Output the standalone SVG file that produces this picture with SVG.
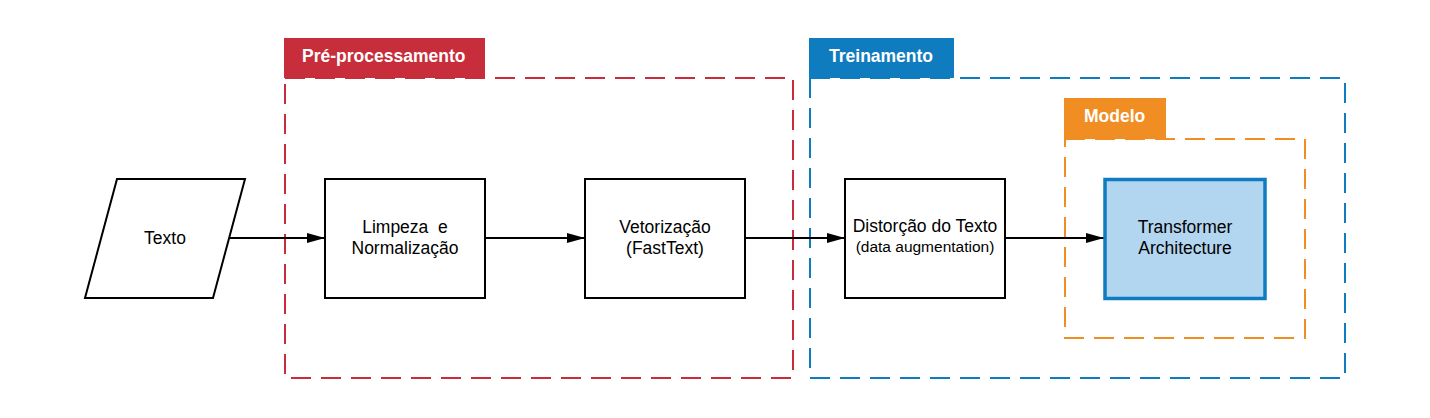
<svg xmlns="http://www.w3.org/2000/svg" width="1430" height="418" viewBox="0 0 1430 418">
<defs>
<style>
.frame{fill:none;stroke-width:2;stroke-dasharray:20 10}
.box{fill:#ffffff;stroke:#000000;stroke-width:2}
.t{font-family:"Liberation Sans",Arial,sans-serif;font-size:17.5px;fill:#000000;text-anchor:middle}
.s{font-size:15.5px}
.pre{white-space:pre}
.lab{font-family:"Liberation Sans",Arial,sans-serif;font-size:17.5px;font-weight:bold;fill:#ffffff}
.conn{fill:none;stroke:#000000;stroke-width:2}
</style>
<marker id="arr" markerWidth="18" markerHeight="10" refX="18" refY="5" orient="auto" markerUnits="userSpaceOnUse">
<path d="M0,0 L18,5 L0,10 Z" fill="#000000"/>
</marker>
</defs>
<rect width="1430" height="418" fill="#ffffff"/>
<g id="preproc">
<rect class="frame" x="285" y="78" width="508" height="300" stroke="#c82d3b"/>
<rect x="284" y="38" width="201" height="40" fill="#c82d3b"/>
<text class="lab" x="302" y="62">Pré-processamento</text>
</g>
<g id="treinamento">
<rect class="frame" x="810" y="78" width="535" height="300" stroke="#0f7cbf"/>
<rect x="809" y="38" width="145" height="40" fill="#0f7cbf"/>
<text class="lab" x="829" y="62">Treinamento</text>
</g>
<g id="modelo">
<rect class="frame" x="1065" y="139" width="240" height="199" stroke="#f08e23"/>
<rect x="1064" y="98" width="102" height="41" fill="#f08e23"/>
<text class="lab" x="1084" y="122">Modelo</text>
</g>
<g id="connectors">
<line class="conn" x1="230" y1="238" x2="325" y2="238" marker-end="url(#arr)"/>
<line class="conn" x1="485" y1="238" x2="585" y2="238" marker-end="url(#arr)"/>
<line class="conn" x1="745" y1="238" x2="845" y2="238" marker-end="url(#arr)"/>
<line class="conn" x1="1005" y1="238" x2="1104" y2="238" marker-end="url(#arr)"/>
</g>
<g id="texto">
<polygon class="box" points="117,179 245,179 213,298 85,298"/>
<text class="t" x="165" y="244">Texto</text>
</g>
<g id="limpeza">
<rect class="box" x="325" y="179" width="160" height="119"/>
<text class="t pre" x="405" y="233" xml:space="preserve">Limpeza  e</text>
<text class="t" x="405" y="254">Normalização</text>
</g>
<g id="vetorizacao">
<rect class="box" x="585" y="179" width="160" height="119"/>
<text class="t" x="665" y="233">Vetorização</text>
<text class="t" x="665" y="254">(FastText)</text>
</g>
<g id="distorcao">
<rect class="box" x="845" y="179" width="160" height="119"/>
<text class="t" x="925" y="232">Distorção do Texto</text>
<text class="t s" x="925" y="252">(data augmentation)</text>
</g>
<g id="transformer">
<rect x="1105" y="179.5" width="160" height="119" fill="#b2d5f0" stroke="#0f7cbf" stroke-width="3.5"/>
<text class="t" x="1185" y="233">Transformer</text>
<text class="t" x="1185" y="254">Architecture</text>
</g>
</svg>
